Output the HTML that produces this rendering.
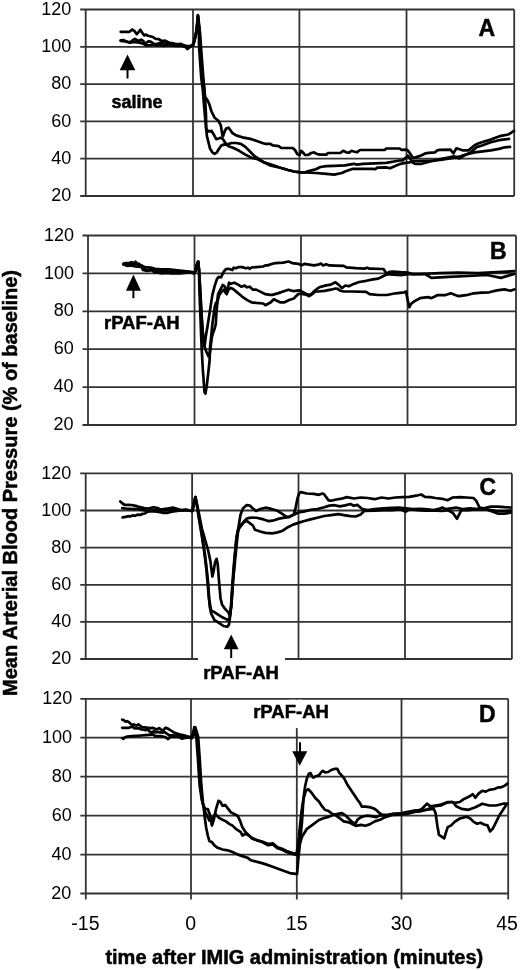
<!DOCTYPE html><html><head><meta charset="utf-8"><style>html,body{margin:0;padding:0;background:#fff;width:520px;height:970px;overflow:hidden}svg{display:block;filter:blur(0.35px)}text{font-family:"Liberation Sans",sans-serif}</style></head><body>
<svg width="520" height="970" viewBox="0 0 520 970">
<rect width="520" height="970" fill="#fff"/>
<line x1="80.2" y1="9.5" x2="514.2" y2="9.5" stroke="#333" stroke-width="1.8" fill="none"/>
<line x1="80.2" y1="46.8" x2="514.2" y2="46.8" stroke="#333" stroke-width="1.8" fill="none"/>
<line x1="80.2" y1="84.1" x2="514.2" y2="84.1" stroke="#333" stroke-width="1.8" fill="none"/>
<line x1="80.2" y1="121.4" x2="514.2" y2="121.4" stroke="#333" stroke-width="1.8" fill="none"/>
<line x1="80.2" y1="158.7" x2="514.2" y2="158.7" stroke="#333" stroke-width="1.8" fill="none"/>
<line x1="80.2" y1="196.0" x2="514.2" y2="196.0" stroke="#333" stroke-width="1.8" fill="none"/>
<line x1="85.7" y1="9.5" x2="85.7" y2="196.0" stroke="#333" stroke-width="1.8" fill="none"/>
<line x1="193.0" y1="9.5" x2="193.0" y2="196.0" stroke="#333" stroke-width="1.8" fill="none"/>
<line x1="299.4" y1="9.5" x2="299.4" y2="196.0" stroke="#333" stroke-width="1.8" fill="none"/>
<line x1="406.5" y1="9.5" x2="406.5" y2="196.0" stroke="#333" stroke-width="1.8" fill="none"/>
<line x1="514.2" y1="9.5" x2="514.2" y2="196.0" stroke="#333" stroke-width="1.8" fill="none"/>
<text x="71.4" y="14.6" font-size="18" text-anchor="end" fill="#000">120</text>
<text x="71.4" y="51.9" font-size="18" text-anchor="end" fill="#000">100</text>
<text x="71.3" y="89.2" font-size="18" text-anchor="end" fill="#000">80</text>
<text x="71.3" y="126.5" font-size="18" text-anchor="end" fill="#000">60</text>
<text x="71.2" y="163.8" font-size="18" text-anchor="end" fill="#000">40</text>
<text x="71.2" y="201.1" font-size="18" text-anchor="end" fill="#000">20</text>
<text x="478.4" y="35.8" font-size="23" font-weight="bold" fill="#000" stroke="#000" stroke-width="0.5">A</text>
<line x1="82.5" y1="235.5" x2="516.0" y2="235.5" stroke="#333" stroke-width="1.8" fill="none"/>
<line x1="82.5" y1="273.4" x2="516.0" y2="273.4" stroke="#333" stroke-width="1.8" fill="none"/>
<line x1="82.5" y1="311.3" x2="516.0" y2="311.3" stroke="#333" stroke-width="1.8" fill="none"/>
<line x1="82.5" y1="349.2" x2="516.0" y2="349.2" stroke="#333" stroke-width="1.8" fill="none"/>
<line x1="82.5" y1="387.1" x2="516.0" y2="387.1" stroke="#333" stroke-width="1.8" fill="none"/>
<line x1="82.5" y1="425.0" x2="516.0" y2="425.0" stroke="#333" stroke-width="1.8" fill="none"/>
<line x1="88.0" y1="235.5" x2="88.0" y2="425.0" stroke="#333" stroke-width="1.8" fill="none"/>
<line x1="194.5" y1="235.5" x2="194.5" y2="425.0" stroke="#333" stroke-width="1.8" fill="none"/>
<line x1="301.0" y1="235.5" x2="301.0" y2="425.0" stroke="#333" stroke-width="1.8" fill="none"/>
<line x1="407.5" y1="235.5" x2="407.5" y2="425.0" stroke="#333" stroke-width="1.8" fill="none"/>
<line x1="516.0" y1="235.5" x2="516.0" y2="425.0" stroke="#333" stroke-width="1.8" fill="none"/>
<text x="74.1" y="240.6" font-size="18" text-anchor="end" fill="#000">120</text>
<text x="74.0" y="278.5" font-size="18" text-anchor="end" fill="#000">100</text>
<text x="73.9" y="316.4" font-size="18" text-anchor="end" fill="#000">80</text>
<text x="73.7" y="354.3" font-size="18" text-anchor="end" fill="#000">60</text>
<text x="73.6" y="392.2" font-size="18" text-anchor="end" fill="#000">40</text>
<text x="73.5" y="430.1" font-size="18" text-anchor="end" fill="#000">20</text>
<text x="490.0" y="258.5" font-size="23" font-weight="bold" fill="#000" stroke="#000" stroke-width="0.5">B</text>
<line x1="80.2" y1="473.4" x2="511.9" y2="473.4" stroke="#333" stroke-width="1.8" fill="none"/>
<line x1="80.2" y1="510.5" x2="511.9" y2="510.5" stroke="#333" stroke-width="1.8" fill="none"/>
<line x1="80.2" y1="547.6" x2="511.9" y2="547.6" stroke="#333" stroke-width="1.8" fill="none"/>
<line x1="80.2" y1="584.8" x2="511.9" y2="584.8" stroke="#333" stroke-width="1.8" fill="none"/>
<line x1="80.2" y1="621.9" x2="511.9" y2="621.9" stroke="#333" stroke-width="1.8" fill="none"/>
<line x1="80.2" y1="659.0" x2="511.9" y2="659.0" stroke="#333" stroke-width="1.8" fill="none"/>
<line x1="85.7" y1="473.4" x2="85.7" y2="659.0" stroke="#333" stroke-width="1.8" fill="none"/>
<line x1="192.1" y1="473.4" x2="192.1" y2="659.0" stroke="#333" stroke-width="1.8" fill="none"/>
<line x1="298.5" y1="473.4" x2="298.5" y2="659.0" stroke="#333" stroke-width="1.8" fill="none"/>
<line x1="405.0" y1="473.4" x2="405.0" y2="659.0" stroke="#333" stroke-width="1.8" fill="none"/>
<line x1="511.9" y1="473.4" x2="511.9" y2="659.0" stroke="#333" stroke-width="1.8" fill="none"/>
<text x="71.2" y="478.5" font-size="18" text-anchor="end" fill="#000">120</text>
<text x="71.2" y="515.6" font-size="18" text-anchor="end" fill="#000">100</text>
<text x="71.2" y="552.7" font-size="18" text-anchor="end" fill="#000">80</text>
<text x="71.2" y="589.9" font-size="18" text-anchor="end" fill="#000">60</text>
<text x="71.2" y="627.0" font-size="18" text-anchor="end" fill="#000">40</text>
<text x="71.2" y="664.1" font-size="18" text-anchor="end" fill="#000">20</text>
<text x="479.4" y="495.0" font-size="23" font-weight="bold" fill="#000" stroke="#000" stroke-width="0.5">C</text>
<line x1="80.3" y1="698.8" x2="508.2" y2="698.8" stroke="#333" stroke-width="1.8" fill="none"/>
<line x1="80.3" y1="737.7" x2="508.2" y2="737.7" stroke="#333" stroke-width="1.8" fill="none"/>
<line x1="80.3" y1="776.7" x2="508.2" y2="776.7" stroke="#333" stroke-width="1.8" fill="none"/>
<line x1="80.3" y1="815.6" x2="508.2" y2="815.6" stroke="#333" stroke-width="1.8" fill="none"/>
<line x1="80.3" y1="854.6" x2="508.2" y2="854.6" stroke="#333" stroke-width="1.8" fill="none"/>
<line x1="80.3" y1="893.5" x2="508.2" y2="893.5" stroke="#333" stroke-width="1.8" fill="none"/>
<line x1="85.8" y1="698.8" x2="85.8" y2="899.5" stroke="#333" stroke-width="1.8" fill="none"/>
<line x1="191.0" y1="698.8" x2="191.0" y2="899.5" stroke="#333" stroke-width="1.8" fill="none"/>
<line x1="296.8" y1="698.8" x2="296.8" y2="899.5" stroke="#333" stroke-width="1.8" fill="none"/>
<line x1="401.5" y1="698.8" x2="401.5" y2="899.5" stroke="#333" stroke-width="1.8" fill="none"/>
<line x1="508.2" y1="698.8" x2="508.2" y2="899.5" stroke="#333" stroke-width="1.8" fill="none"/>
<text x="72.2" y="703.9" font-size="18" text-anchor="end" fill="#000">120</text>
<text x="72.0" y="742.8" font-size="18" text-anchor="end" fill="#000">100</text>
<text x="71.8" y="781.8" font-size="18" text-anchor="end" fill="#000">80</text>
<text x="71.7" y="820.7" font-size="18" text-anchor="end" fill="#000">60</text>
<text x="71.5" y="859.7" font-size="18" text-anchor="end" fill="#000">40</text>
<text x="71.3" y="898.6" font-size="18" text-anchor="end" fill="#000">20</text>
<text x="479.0" y="721.7" font-size="23" font-weight="bold" fill="#000" stroke="#000" stroke-width="0.5">D</text>
<!--ANNOT-->

<path d="M120.7,31.8 L129.5,31.8 L132.2,29.5 L134.5,31.2 L136.8,34.1 L138.4,32.3 L140.3,29.8 L142.2,32.7 L144.2,35.4 L146.1,34.6 L148.0,35.8 L151.1,36.5 L153.4,37.3 L155.7,38.8 L158.4,39.0 L161.8,41.0 L165.2,40.7 L168.5,42.5 L171.9,43.0 L175.3,43.8 L178.7,44.2 L181.2,43.8 L183.8,45.3 L187.1,46.2 L190.5,45.8 L192.2,45.5 L193.2,45.6 L194.3,40.9 L196.3,33.7 L197.9,15.2 L199.4,30.6 L199.9,46.1 L202.5,77.0 L204.1,87.3 L205.1,97.6 L206.9,99.2 L209.2,103.8 L211.5,111.5 L214.6,117.7 L218.5,120.8 L220.8,125.4 L222.3,134.6 L223.0,136.2 L224.6,131.5 L226.2,128.5 L228.5,127.7 L230.3,130.0 L232.3,133.0 L236.2,135.4 L243.8,137.7 L251.5,139.2 L256.2,140.8 L262.3,143.0 L265.0,143.8 L270.4,143.8 L272.7,145.4 L278.8,146.2 L281.2,148.0 L292.7,148.0 L295.0,150.0 L297.3,154.2 L299.6,155.0 L301.2,150.8 L303.5,153.0 L305.0,155.0 L308.0,155.0 L311.2,153.0 L314.2,152.3 L316.5,153.8 L319.6,154.6 L326.5,154.6 L328.0,153.0 L340.4,153.0 L343.1,150.8 L346.2,152.3 L349.2,152.6 L351.5,150.8 L353.8,151.5 L356.9,152.3 L360.0,150.0 L384.6,150.0 L386.2,148.5 L399.6,148.5 L401.5,149.9 L406.3,149.6 L408.3,150.9 L410.2,153.8 L412.1,156.6 L413.6,158.1 L415.0,157.6 L417.9,156.6 L421.7,155.2 L425.6,153.3 L428.5,152.8 L435.2,152.3 L437.1,150.4 L440.0,149.9 L450.4,149.7 L453.4,153.4 L456.4,148.3 L462.5,150.3 L468.6,150.3 L474.6,145.3 L478.7,143.3 L486.7,140.8 L490.8,139.6 L496.8,137.2 L500.9,135.8 L504.9,135.2 L509.0,134.2 L512.0,132.2 L514.0,130.8" stroke="#000" stroke-width="2.7" fill="none" stroke-linejoin="round" stroke-linecap="round"/>
<path d="M120.7,40.4 L123.4,40.0 L125.7,41.2 L128.0,41.9 L130.3,42.3 L132.6,40.4 L134.9,38.8 L136.8,40.0 L138.8,41.2 L141.1,39.6 L143.4,41.2 L144.9,44.2 L146.5,42.7 L148.8,41.2 L151.1,41.9 L153.4,43.5 L155.7,44.2 L160.0,43.0 L165.0,43.5 L170.0,44.2 L175.0,44.8 L180.0,45.2 L185.0,45.8 L188.0,47.0 L191.0,46.5 L193.5,44.0 L195.0,38.0 L196.6,30.0 L197.9,15.5 L199.0,28.0 L199.0,46.0 L201.2,77.0 L202.8,90.0 L204.0,105.0 L205.4,120.8 L206.9,136.2 L208.5,142.3 L210.0,148.5 L212.3,152.3 L214.6,153.8 L216.9,152.3 L219.2,148.5 L221.5,145.4 L223.8,144.6 L226.9,144.6 L231.5,143.0 L236.2,143.0 L240.8,143.8 L245.4,146.9 L250.0,151.5 L254.6,156.2 L259.2,159.2 L263.8,162.3 L270.0,165.4 L280.4,167.7 L288.0,170.0 L294.2,171.5 L300.4,172.3 L305.0,172.3 L309.6,170.8 L315.8,169.2 L320.4,167.0 L326.5,166.2 L334.2,165.8 L345.0,165.4 L349.2,164.6 L353.8,163.8 L356.9,164.6 L363.0,163.8 L386.2,162.8 L399.6,160.5 L402.5,160.5 L405.9,157.6 L407.8,155.7 L409.2,157.1 L411.2,160.0 L413.1,162.9 L415.0,163.8 L421.7,163.8 L430.2,161.4 L444.3,158.4 L454.4,156.4 L459.5,158.4 L464.5,155.4 L470.6,152.4 L476.6,147.3 L482.7,145.3 L490.8,142.3 L498.9,140.2 L506.9,139.2 L509.0,138.8" stroke="#000" stroke-width="2.7" fill="none" stroke-linejoin="round" stroke-linecap="round"/>
<path d="M120.7,40.8 L125.7,41.5 L130.3,42.7 L133.4,41.9 L137.2,42.3 L141.1,43.1 L144.2,44.2 L147.2,45.4 L150.3,45.0 L153.4,45.0 L158.0,45.4 L160.1,45.0 L163.5,45.8 L167.7,45.0 L171.9,45.4 L176.2,45.8 L180.4,45.8 L185.5,47.0 L187.1,49.0 L188.8,48.0 L191.4,46.0 L193.8,43.0 L195.5,36.0 L197.2,25.0 L198.1,16.0 L200.2,35.0 L201.2,50.0 L203.5,80.0 L205.0,97.0 L206.0,115.0 L206.2,128.5 L208.5,131.5 L211.5,130.8 L213.8,134.6 L216.2,139.2 L218.5,138.5 L220.8,137.7 L223.0,139.2 L225.4,143.0 L228.5,146.2 L233.0,147.7 L239.2,150.8 L245.4,154.6 L251.5,157.7 L257.7,159.2 L263.8,162.3 L271.2,164.6 L280.4,167.7 L288.0,170.0 L294.2,171.5 L300.4,172.3 L305.0,172.3 L315.8,173.0 L326.5,173.8 L334.2,174.6 L341.9,173.0 L345.0,171.5 L349.2,170.0 L352.3,168.9 L372.3,168.9 L375.4,169.2 L377.0,167.7 L386.2,167.4 L390.0,168.2 L395.8,165.8 L400.6,163.8 L405.4,162.9 L409.2,162.4 L414.0,161.0 L423.7,160.8 L433.3,160.5 L440.0,160.0 L450.0,158.4 L460.5,156.4 L466.5,154.4 L474.6,152.4 L482.7,151.3 L490.8,150.3 L498.9,148.9 L504.9,147.3 L510.0,146.9" stroke="#000" stroke-width="2.7" fill="none" stroke-linejoin="round" stroke-linecap="round"/>
<path d="M123.5,263.5 L126.0,263.2 L129.2,263.0 L131.5,262.2 L133.5,263.5 L135.4,261.8 L137.0,263.5 L138.5,263.5 L141.5,265.5 L144.6,267.0 L150.8,267.5 L155.0,268.8 L161.8,269.3 L168.5,269.3 L175.3,270.0 L182.1,270.8 L188.8,271.6 L192.2,272.0 L194.0,273.0 L195.5,271.0 L196.8,265.0 L198.2,261.6 L199.0,270.0 L199.7,281.0 L201.2,311.9 L202.5,330.0 L203.7,342.0 L204.6,346.0 L205.6,337.6 L207.9,324.0 L210.0,310.4 L212.3,295.4 L214.6,286.2 L216.9,279.2 L218.7,276.9 L221.0,277.5 L222.1,275.2 L223.3,272.3 L225.6,269.4 L227.9,268.8 L230.8,269.4 L232.5,270.0 L233.7,267.7 L236.0,268.3 L238.3,267.1 L242.3,267.1 L245.8,268.3 L248.1,267.7 L249.8,268.8 L251.5,267.5 L256.2,267.1 L263.1,266.5 L265.4,265.4 L267.7,265.4 L272.3,263.8 L275.4,263.1 L283.1,262.6 L288.5,261.5 L292.3,263.1 L298.5,263.8 L301.5,265.4 L304.6,263.8 L309.2,264.6 L313.8,265.4 L318.5,264.6 L320.8,263.5 L323.1,265.4 L326.2,264.2 L329.2,265.4 L335.0,265.6 L343.7,265.9 L346.2,267.3 L355.8,268.2 L364.4,268.7 L367.0,267.7 L369.6,268.7 L383.5,269.0 L385.2,271.6 L386.9,274.2 L388.7,272.2 L392.1,271.6 L400.8,272.2 L407.7,272.5 L412.9,274.2 L420.0,274.0 L439.2,273.1 L458.5,272.7 L477.7,273.1 L496.9,272.1 L514.2,271.2" stroke="#000" stroke-width="2.7" fill="none" stroke-linejoin="round" stroke-linecap="round"/>
<path d="M123.5,264.5 L127.7,266.0 L131.0,265.5 L135.4,266.5 L141.5,267.0 L143.1,270.0 L146.9,271.0 L150.0,270.5 L152.3,270.5 L154.6,272.5 L157.0,272.5 L161.8,273.3 L166.8,272.8 L171.0,273.5 L176.2,273.3 L180.0,273.5 L184.6,272.8 L190.5,272.2 L194.0,273.5 L195.5,271.0 L196.8,265.0 L198.2,261.6 L199.0,270.0 L199.4,290.0 L200.5,318.3 L201.6,346.7 L202.8,369.3 L204.5,392.0 L205.4,393.7 L206.7,386.3 L208.4,371.6 L209.6,360.3 L210.1,346.7 L211.3,335.3 L212.4,324.0 L214.7,307.0 L215.8,303.0 L216.9,303.5 L218.1,294.2 L220.4,289.6 L222.7,285.0 L224.4,286.2 L226.2,289.6 L227.3,290.8 L229.0,282.7 L230.8,283.8 L234.2,282.7 L237.7,284.4 L241.2,286.7 L244.6,285.6 L246.9,287.3 L249.8,286.7 L252.7,289.6 L256.2,289.6 L260.8,291.9 L265.4,294.2 L270.0,294.8 L272.3,294.9 L278.5,293.1 L283.1,291.5 L288.5,289.7 L293.8,291.2 L299.2,290.3 L303.1,292.3 L307.7,294.6 L310.8,294.6 L314.6,290.8 L318.5,287.7 L321.5,286.6 L326.2,285.4 L330.8,284.6 L335.4,282.3 L338.5,284.6 L341.9,288.1 L345.4,285.5 L348.8,286.3 L352.3,284.6 L359.2,282.0 L366.2,280.8 L373.1,279.4 L378.3,278.6 L383.5,276.0 L386.9,274.2 L400.8,275.1 L407.7,274.2 L425.0,274.2 L431.5,277.9 L448.8,276.9 L468.0,276.0 L487.3,275.0 L500.8,277.9 L514.2,274.0" stroke="#000" stroke-width="2.7" fill="none" stroke-linejoin="round" stroke-linecap="round"/>
<path d="M123.5,264.0 L128.0,265.0 L132.0,264.5 L136.5,264.0 L139.0,265.0 L141.5,266.0 L143.5,268.5 L147.0,270.0 L151.0,269.0 L155.0,271.0 L160.0,271.5 L165.0,271.2 L170.0,272.0 L175.0,271.5 L180.0,272.3 L185.0,272.0 L190.0,272.0 L194.0,273.0 L195.5,271.0 L196.8,265.0 L198.2,261.6 L199.0,270.0 L200.5,295.0 L201.8,318.0 L203.3,340.0 L204.5,346.7 L206.5,352.0 L208.4,356.3 L209.5,355.0 L210.7,346.7 L211.8,337.6 L213.0,333.0 L214.7,328.5 L215.8,324.0 L216.4,312.7 L217.5,301.3 L219.2,294.8 L221.5,291.9 L223.8,289.6 L225.0,291.9 L226.7,294.2 L228.5,289.6 L230.8,287.9 L233.1,289.0 L236.5,291.9 L240.0,294.8 L243.5,297.7 L248.1,300.6 L251.5,302.3 L256.2,302.9 L263.1,303.5 L265.4,305.2 L267.7,304.0 L270.8,302.3 L273.8,299.2 L276.9,300.8 L280.0,302.3 L284.6,302.3 L289.2,300.0 L293.8,298.5 L298.5,293.8 L301.5,293.8 L306.2,294.6 L309.2,296.2 L311.5,294.6 L315.4,291.5 L318.5,291.5 L324.6,290.8 L330.8,289.7 L335.4,288.5 L337.6,288.9 L340.2,290.7 L343.7,291.5 L352.3,291.5 L366.2,291.9 L369.6,294.1 L378.3,295.0 L386.9,295.0 L395.6,293.3 L404.2,292.4 L406.0,291.5 L407.7,300.2 L409.4,307.1 L411.2,303.7 L414.6,301.1 L418.1,299.3 L420.0,298.1 L427.7,297.1 L431.5,298.1 L437.3,295.2 L445.0,295.2 L450.8,293.3 L458.5,296.2 L466.2,295.2 L473.8,293.3 L481.5,292.7 L489.2,292.3 L496.9,290.4 L504.6,289.4 L510.4,290.8 L514.2,289.4" stroke="#000" stroke-width="2.7" fill="none" stroke-linejoin="round" stroke-linecap="round"/>
<path d="M120.3,501.5 L122.6,503.5 L124.9,505.0 L128.0,504.8 L131.1,505.0 L133.4,505.4 L135.7,505.8 L138.0,506.5 L141.1,507.3 L144.2,508.1 L147.2,508.5 L150.3,508.1 L153.4,507.3 L155.0,507.5 L157.5,508.0 L160.1,509.5 L163.5,509.2 L167.7,508.5 L172.8,507.6 L176.2,508.5 L178.7,509.5 L182.1,510.3 L185.5,509.5 L188.8,510.2 L191.4,511.0 L192.5,510.5 L193.5,505.0 L195.4,497.0 L196.5,502.4 L197.3,505.5 L201.9,528.6 L205.0,539.5 L208.1,550.3 L210.4,561.1 L212.4,576.5 L213.5,571.9 L215.0,562.6 L216.6,558.8 L217.7,564.2 L218.9,579.6 L220.5,598.2 L222.0,604.4 L225.1,609.0 L228.2,612.1 L229.7,615.2 L231.3,605.9 L232.8,582.7 L234.4,567.3 L235.9,551.8 L237.5,536.4 L239.0,524.0 L240.5,514.7 L242.9,508.5 L246.7,505.1 L249.8,505.5 L252.9,508.5 L256.0,510.9 L260.2,509.0 L265.4,507.7 L270.6,508.7 L277.5,510.8 L282.7,514.2 L286.2,516.8 L289.6,516.8 L293.9,514.2 L295.7,507.3 L297.4,498.7 L299.1,493.5 L300.9,492.1 L306.9,493.5 L313.8,493.8 L319.0,494.8 L322.5,493.5 L324.2,494.3 L326.0,496.9 L328.6,500.4 L331.2,500.7 L336.3,499.5 L341.5,498.7 L346.9,497.1 L353.8,498.5 L360.8,497.5 L367.7,498.0 L374.6,499.2 L381.5,497.5 L388.5,498.5 L395.4,497.5 L402.3,497.1 L409.2,496.8 L416.2,495.7 L421.3,494.5 L424.8,496.8 L430.2,497.1 L435.4,498.0 L442.3,498.8 L447.5,500.2 L452.7,497.5 L459.6,497.1 L466.5,497.5 L473.5,498.0 L476.1,500.6 L477.8,504.0 L479.5,507.5 L483.8,508.4 L490.8,506.6 L497.7,506.6 L504.6,507.2 L510.7,507.5" stroke="#000" stroke-width="2.7" fill="none" stroke-linejoin="round" stroke-linecap="round"/>
<path d="M122.2,508.1 L125.7,508.5 L129.5,508.8 L133.4,509.2 L137.2,508.8 L141.1,509.6 L144.9,510.4 L148.8,510.8 L152.6,510.4 L155.0,510.0 L160.0,510.5 L165.0,510.5 L170.0,510.0 L175.0,509.8 L180.0,510.2 L185.0,510.0 L190.0,510.5 L192.5,511.0 L193.5,505.0 L195.4,497.0 L196.5,502.4 L199.6,520.9 L202.7,539.5 L205.0,554.9 L206.5,567.3 L208.1,582.7 L209.6,605.9 L211.2,613.6 L214.3,619.8 L218.9,622.9 L223.5,626.0 L227.4,626.8 L229.0,624.4 L230.5,613.6 L232.0,590.4 L233.6,567.3 L235.1,551.8 L236.7,536.4 L238.2,528.6 L239.8,525.5 L242.1,524.0 L244.4,520.9 L246.7,518.6 L249.8,517.8 L252.9,517.5 L258.0,518.0 L260.2,518.6 L263.7,519.4 L268.8,521.2 L274.0,520.3 L279.2,518.6 L284.4,517.7 L289.6,516.8 L294.8,514.2 L298.3,512.5 L303.5,511.6 L310.4,509.9 L317.3,509.0 L324.2,507.3 L329.4,505.6 L334.6,505.2 L339.8,506.4 L345.2,505.4 L350.4,504.0 L353.8,505.8 L357.3,504.9 L362.5,509.2 L367.7,510.1 L374.6,509.2 L383.3,508.4 L391.9,507.8 L398.8,507.5 L405.8,508.4 L412.7,509.2 L419.6,508.9 L425.0,509.2 L433.7,510.1 L438.8,508.9 L442.3,507.5 L445.8,509.2 L451.0,508.4 L456.2,507.5 L463.1,509.2 L470.0,508.4 L476.9,509.2 L483.8,509.2 L490.8,510.1 L497.7,511.0 L504.6,511.0 L510.7,510.6" stroke="#000" stroke-width="2.7" fill="none" stroke-linejoin="round" stroke-linecap="round"/>
<path d="M122.6,517.3 L125.7,516.9 L128.0,516.2 L130.3,516.5 L132.6,515.4 L134.9,515.8 L138.0,514.6 L140.3,515.0 L142.6,513.8 L144.9,513.5 L146.5,512.3 L148.8,511.5 L152.6,511.2 L155.0,511.5 L160.1,512.2 L162.6,512.8 L167.7,512.8 L171.9,511.7 L177.0,510.8 L182.1,510.5 L187.1,510.2 L191.4,511.0 L192.5,511.0 L193.5,505.0 L195.4,497.0 L196.5,502.4 L198.8,517.8 L201.9,536.4 L204.2,551.8 L206.5,570.4 L208.9,598.2 L211.2,610.5 L214.3,612.1 L216.6,613.6 L218.9,615.2 L221.2,616.7 L224.3,618.3 L227.4,619.8 L229.4,619.0 L231.3,605.9 L233.0,582.0 L234.6,560.0 L236.2,540.0 L237.7,532.0 L239.0,528.6 L241.3,525.5 L243.6,522.5 L246.7,520.9 L249.8,523.2 L252.9,525.5 L255.0,529.8 L260.2,531.5 L265.4,532.9 L272.3,533.3 L277.5,532.4 L282.7,530.7 L287.9,527.2 L293.1,524.6 L298.3,522.9 L303.5,521.2 L310.4,519.4 L317.3,517.7 L324.2,516.0 L331.2,515.1 L338.1,514.2 L340.0,514.4 L345.2,515.3 L350.4,516.2 L355.6,516.5 L360.8,514.4 L364.2,511.0 L374.6,510.6 L383.3,510.1 L391.9,510.1 L400.6,509.2 L405.8,511.8 L409.2,509.2 L417.9,510.1 L425.0,510.6 L435.4,510.6 L442.3,511.0 L447.5,510.1 L452.7,512.7 L457.0,518.7 L458.7,515.3 L461.3,510.1 L468.3,510.1 L476.9,509.2 L485.6,508.9 L490.8,511.0 L497.7,513.6 L504.6,513.6 L510.7,512.7" stroke="#000" stroke-width="2.7" fill="none" stroke-linejoin="round" stroke-linecap="round"/>
<path d="M122.2,719.7 L123.8,720.1 L125.3,721.6 L127.2,721.2 L129.2,722.4 L130.3,723.5 L132.2,725.1 L133.4,724.3 L134.9,725.1 L136.5,725.8 L138.4,724.3 L139.9,725.5 L141.8,727.0 L144.9,727.4 L148.0,727.8 L150.3,728.2 L152.6,727.8 L154.5,728.5 L156.7,729.4 L159.2,728.1 L161.3,729.8 L163.5,730.2 L165.6,727.7 L167.7,728.5 L169.8,729.8 L171.9,731.1 L174.5,732.8 L177.0,733.6 L180.4,734.5 L183.8,735.3 L187.1,736.2 L190.5,737.0 L191.7,737.9 L193.0,733.0 L194.3,727.2 L196.3,737.0 L198.0,760.0 L199.6,785.0 L201.8,800.0 L202.8,803.5 L203.7,805.8 L205.3,809.1 L207.8,809.1 L210.3,815.7 L211.9,825.6 L213.6,820.6 L216.0,809.1 L218.5,800.8 L220.2,801.6 L222.6,805.8 L225.1,804.9 L228.4,809.1 L230.9,812.4 L234.2,814.0 L237.5,815.7 L240.0,820.6 L242.4,827.2 L245.7,832.2 L250.7,837.1 L257.3,840.4 L262.0,841.5 L268.2,844.0 L272.8,843.3 L277.4,847.2 L282.0,848.7 L286.6,851.0 L291.2,852.6 L296.6,854.2 L298.9,836.9 L301.2,813.8 L303.5,798.5 L305.8,790.8 L308.2,789.2 L311.2,792.3 L315.1,797.7 L318.9,801.5 L322.0,806.2 L325.1,810.0 L328.2,810.8 L331.2,813.1 L335.8,815.4 L338.9,817.7 L342.0,820.0 L343.7,821.4 L348.8,822.3 L352.3,824.0 L355.8,825.8 L361.0,824.9 L365.3,825.8 L369.6,824.4 L374.8,821.4 L380.0,819.7 L385.2,817.1 L392.1,815.0 L400.8,814.5 L407.7,813.7 L414.6,811.9 L420.0,811.5 L426.9,809.8 L433.8,806.3 L440.8,805.5 L447.7,802.0 L452.9,802.0 L456.3,806.3 L461.5,808.9 L468.5,809.8 L475.4,807.2 L482.3,803.7 L489.2,805.5 L496.2,805.5 L503.1,803.7 L507.4,803.7" stroke="#000" stroke-width="2.7" fill="none" stroke-linejoin="round" stroke-linecap="round"/>
<path d="M122.2,727.8 L128.8,727.8 L131.1,727.0 L132.6,726.6 L134.2,728.2 L136.5,728.5 L138.8,728.2 L141.1,729.3 L143.4,729.7 L145.7,730.1 L148.0,729.7 L149.5,731.2 L151.1,732.8 L152.6,732.0 L154.2,731.2 L155.7,732.4 L157.5,731.9 L160.1,732.3 L162.2,732.8 L164.3,731.9 L166.8,733.6 L169.4,735.3 L171.9,735.3 L175.3,735.7 L179.5,736.2 L183.8,736.6 L188.0,737.2 L191.7,738.0 L193.3,734.0 L194.8,727.2 L197.3,737.0 L198.9,760.0 L200.5,785.0 L202.5,802.0 L203.6,807.0 L204.5,810.7 L207.0,815.7 L209.4,820.6 L211.9,819.0 L215.2,814.0 L216.9,815.7 L219.3,818.1 L222.6,819.8 L225.9,821.4 L229.2,823.9 L232.5,825.6 L235.8,828.9 L240.8,832.2 L242.4,835.5 L245.7,833.8 L249.0,835.5 L252.3,838.8 L257.3,840.4 L262.0,842.0 L268.2,845.2 L272.8,844.4 L277.4,848.3 L282.0,849.7 L286.6,852.0 L291.2,853.6 L296.6,855.0 L298.0,850.0 L300.0,843.0 L302.0,836.9 L306.6,829.2 L312.8,824.6 L318.9,820.0 L323.5,818.2 L328.2,816.9 L334.3,814.6 L342.0,813.1 L345.4,815.4 L348.8,818.8 L352.3,822.3 L355.8,823.2 L357.5,819.7 L361.0,817.1 L366.2,815.7 L371.3,816.2 L376.5,817.1 L380.0,815.4 L385.2,815.4 L392.1,814.5 L400.8,813.7 L407.7,812.8 L414.6,811.1 L420.0,809.8 L428.7,809.5 L433.8,808.9 L435.6,813.3 L437.3,825.4 L439.0,834.9 L441.6,836.6 L444.2,838.4 L446.0,832.3 L447.7,827.1 L451.2,825.4 L454.6,821.9 L459.8,818.5 L463.3,817.6 L466.7,816.7 L470.2,818.5 L473.7,821.9 L477.1,823.7 L480.6,822.8 L484.0,824.5 L487.5,825.4 L490.1,831.4 L492.7,828.8 L496.2,821.9 L499.6,815.0 L503.1,809.8 L506.5,804.6" stroke="#000" stroke-width="2.7" fill="none" stroke-linejoin="round" stroke-linecap="round"/>
<path d="M122.2,738.2 L123.4,738.9 L124.2,737.8 L127.2,736.6 L131.8,736.2 L136.5,735.8 L141.1,735.5 L145.7,735.1 L150.3,734.7 L153.4,734.3 L155.0,736.2 L160.1,736.2 L165.2,737.0 L168.1,739.1 L170.2,737.0 L173.6,736.6 L178.7,737.0 L182.1,738.7 L185.5,737.8 L190.5,737.4 L191.7,738.2 L193.8,735.0 L195.4,727.6 L198.2,737.0 L199.8,760.0 L201.3,785.0 L203.0,803.0 L204.0,810.0 L204.5,815.7 L206.1,827.2 L207.8,835.5 L209.4,841.2 L211.9,842.1 L214.4,845.4 L217.7,847.8 L222.6,849.5 L227.6,850.3 L232.5,852.0 L237.5,854.4 L242.4,856.1 L247.4,857.7 L250.7,860.2 L257.3,861.9 L262.0,863.1 L266.6,864.6 L271.2,866.2 L277.4,868.5 L283.5,870.8 L289.7,873.1 L295.8,873.8 L297.1,873.8 L298.2,860.0 L299.7,846.2 L302.0,821.5 L303.5,798.5 L305.1,786.2 L306.9,778.5 L308.9,773.8 L310.5,773.1 L312.0,776.2 L313.5,777.7 L315.8,776.2 L318.9,775.4 L321.2,772.3 L322.8,770.8 L325.1,772.3 L328.2,772.0 L331.2,770.0 L334.3,768.9 L337.4,768.9 L338.9,772.3 L340.2,773.8 L341.9,775.6 L344.5,779.0 L347.1,784.2 L350.6,789.4 L354.0,794.6 L357.5,799.8 L360.1,803.3 L361.8,806.7 L365.3,806.7 L369.6,807.1 L373.9,808.5 L376.5,810.2 L379.1,812.8 L381.7,814.5 L386.9,815.0 L393.8,813.7 L400.8,813.3 L407.7,811.9 L414.6,810.5 L420.0,810.7 L423.5,807.2 L426.9,803.7 L430.4,806.3 L435.6,805.5 L440.8,804.6 L446.0,802.9 L451.2,802.0 L454.6,802.9 L459.8,802.0 L463.3,799.4 L466.7,797.7 L470.2,796.0 L472.8,794.2 L475.4,797.7 L478.8,793.4 L482.3,790.8 L485.8,791.6 L489.2,789.9 L494.4,789.0 L498.7,787.3 L501.3,787.3 L504.8,785.6 L507.4,783.5" stroke="#000" stroke-width="2.7" fill="none" stroke-linejoin="round" stroke-linecap="round"/>
<!--LABELS-->
<g fill="#000">
<text x="85.4" y="929.6" font-size="19.5" text-anchor="middle">-15</text>
<text x="190.7" y="929.6" font-size="19.5" text-anchor="middle">0</text>
<text x="296.7" y="929.6" font-size="19.5" text-anchor="middle">15</text>
<text x="401.5" y="929.6" font-size="19.5" text-anchor="middle">30</text>
<text x="507" y="929.6" font-size="19.5" text-anchor="middle">45</text>
<text x="105.4" y="963.8" font-size="20" font-weight="bold" stroke="#000" stroke-width="0.5">time after IMIG administration (minutes)</text>
<text transform="translate(16.6,483) rotate(-90)" font-size="20" font-weight="bold" stroke="#000" stroke-width="0.5" text-anchor="middle">Mean Arterial Blood Pressure (% of baseline)</text>
<!-- A annotation -->
<path d="M127.5,54.5 L135.3,70.3 L119.7,70.3 Z"/>
<rect x="126.5" y="69" width="2" height="9.5"/>
<text x="111.5" y="108.3" font-size="18" font-weight="bold" stroke="#000" stroke-width="0.5">saline</text>
<!-- B annotation -->
<path d="M133.4,274.5 L140.9,290.7 L125.9,290.7 Z"/>
<rect x="132.4" y="289" width="2" height="9.2"/>
<rect x="104" y="313" width="76" height="17" fill="#fff"/>
<text x="141.8" y="328.6" text-anchor="middle" font-size="18.5" font-weight="bold" stroke="#000" stroke-width="0.5">rPAF-AH</text>
<!-- C annotation -->
<rect x="198" y="655" width="87" height="8" fill="#fff"/>
<path d="M231.2,634.4 L238.6,649.2 L223.8,649.2 Z"/>
<rect x="230.2" y="647" width="2" height="11"/>
<text x="241" y="678.8" text-anchor="middle" font-size="18.5" font-weight="bold" stroke="#000" stroke-width="0.5">rPAF-AH</text>
<!-- D annotation -->
<rect x="290" y="699.75" width="12" height="28.4" fill="#fff"/>
<text x="291" y="718.3" text-anchor="middle" font-size="18.5" font-weight="bold" stroke="#000" stroke-width="0.5">rPAF-AH</text>
<rect x="299" y="742.3" width="2" height="10"/>
<path d="M292.2,751.2 L307.3,751.2 L299.7,765.8 Z"/>
</g>

</svg></body></html>
